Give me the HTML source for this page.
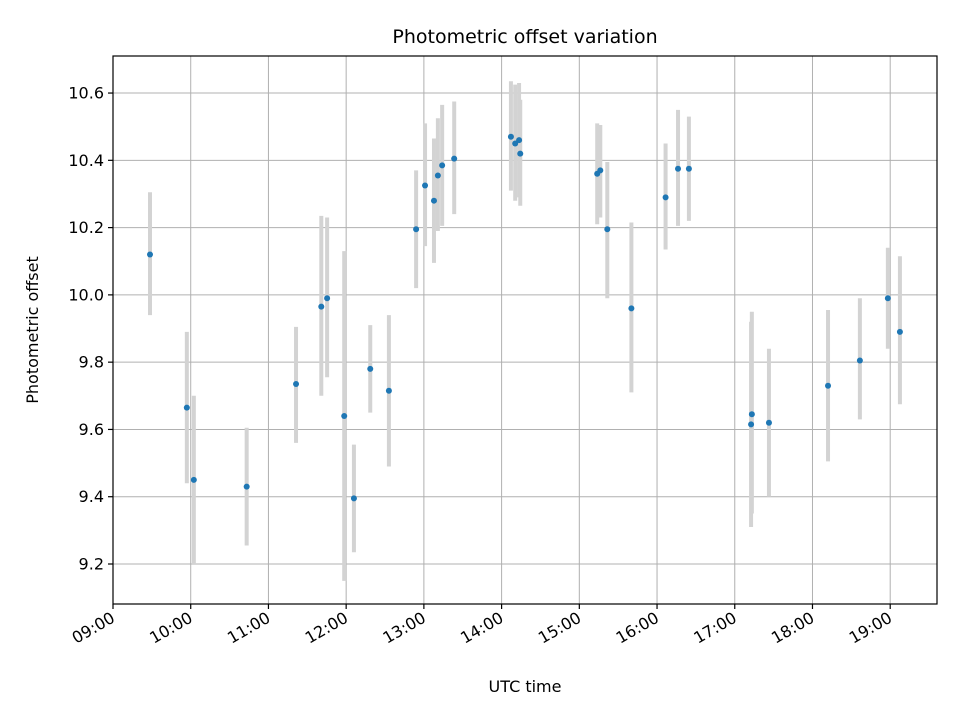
<!DOCTYPE html>
<html><head><meta charset="utf-8"><style>
html,body{margin:0;padding:0;background:#fff;}
svg{display:block;font-family:"DejaVu Sans","Liberation Sans",sans-serif;}
</style></head><body>
<svg id="chart" width="960" height="720" viewBox="0 0 960 720" xmlns="http://www.w3.org/2000/svg">
<rect width="960" height="720" fill="#fff"/>
<g id="grid"></g>
<g id="errs"></g>
<g id="pts"></g>
<rect x="113" y="56" width="824" height="548" fill="none" stroke="#000" stroke-width="1.2"/>
<g id="ticks"></g>
<text x="525" y="43" text-anchor="middle" font-size="19">Photometric offset variation</text>
<text x="525" y="692" text-anchor="middle" font-size="16">UTC time</text>
<text transform="translate(38,330) rotate(-90)" text-anchor="middle" font-size="16">Photometric offset</text>
</svg>
<script>
const times=[9.476,9.95,10.04,10.72,11.355,11.68,11.755,11.975,12.10,12.31,12.55,12.90,13.015,13.13,13.18,13.235,13.39,14.12,14.175,14.225,14.24,15.23,15.27,15.36,15.67,16.11,16.27,16.41,17.21,17.22,17.44,18.20,18.61,18.97,19.125];
const offsets=[10.12,9.665,9.45,9.43,9.735,9.965,9.99,9.64,9.395,9.78,9.715,10.195,10.325,10.28,10.355,10.385,10.405,10.47,10.45,10.46,10.42,10.36,10.37,10.195,9.96,10.29,10.375,10.375,9.615,9.645,9.62,9.73,9.805,9.99,9.89];
const lows=[9.94,9.44,9.20,9.255,9.56,9.70,9.755,9.15,9.235,9.65,9.49,10.02,10.145,10.095,10.19,10.205,10.24,10.31,10.28,10.29,10.265,10.21,10.23,9.99,9.71,10.135,10.205,10.22,9.31,9.35,9.40,9.505,9.63,9.84,9.675];
const highs=[10.305,9.89,9.70,9.605,9.905,10.235,10.23,10.13,9.555,9.91,9.94,10.37,10.51,10.465,10.525,10.565,10.575,10.635,10.625,10.63,10.58,10.51,10.505,10.395,10.215,10.45,10.55,10.53,9.92,9.95,9.84,9.955,9.99,10.14,10.115];
const yTicks=[9.2,9.4,9.6,9.8,10.0,10.2,10.4,10.6];
const xTickHours=[9,10,11,12,13,14,15,16,17,18,19];
const xTickLabels=["09:00","10:00","11:00","12:00","13:00","14:00","15:00","16:00","17:00","18:00","19:00"];
const X=h=>113+(h-9)*77.72;
const Y=v=>564-(v-9.2)*336.4;
const NS="http://www.w3.org/2000/svg";
function mk(t,a,p){const e=document.createElementNS(NS,t);for(const k in a)e.setAttribute(k,a[k]);p.appendChild(e);return e;}
const grid=document.getElementById('grid'),ticks=document.getElementById('ticks');
yTicks.forEach(v=>{
 const l=mk('line',{x1:113,x2:937,y1:Y(v),y2:Y(v),stroke:'#b0b0b0','stroke-width':1},grid);
 
 
 const t=mk('line',{x1:108,x2:113,y1:Y(v),y2:Y(v),stroke:'#000','stroke-width':1.2},ticks);
 
 
 const tx=mk('text',{x:104,y:Y(v)+5.5,'text-anchor':'end','font-size':16},ticks);
 tx.textContent=v.toFixed(1);
 
 
});
xTickHours.forEach((h,i)=>{
 const l=mk('line',{x1:X(h),x2:X(h),y1:56,y2:604,stroke:'#b0b0b0','stroke-width':1},grid);
 
 
 const t=mk('line',{x1:X(h),x2:X(h),y1:604,y2:609,stroke:'#000','stroke-width':1.2},ticks);
 
 
 const tx=mk('text',{transform:`translate(${X(h)+3},${621}) rotate(-30)`,'text-anchor':'end','font-size':16},ticks);
 tx.textContent=xTickLabels[i];
 
 
});
const errs=document.getElementById('errs'),pts=document.getElementById('pts');
times.forEach((h,i)=>{
 const e=mk('line',{x1:X(h),x2:X(h),y1:Y(lows[i]),y2:Y(highs[i]),stroke:'#d3d3d3','stroke-width':4},errs);
 
 
});
times.forEach((h,i)=>{
 const c=mk('circle',{cx:X(h),cy:Y(offsets[i]),r:3,fill:'#1f77b4'},pts);
 
 
});
</script>
</body></html>
